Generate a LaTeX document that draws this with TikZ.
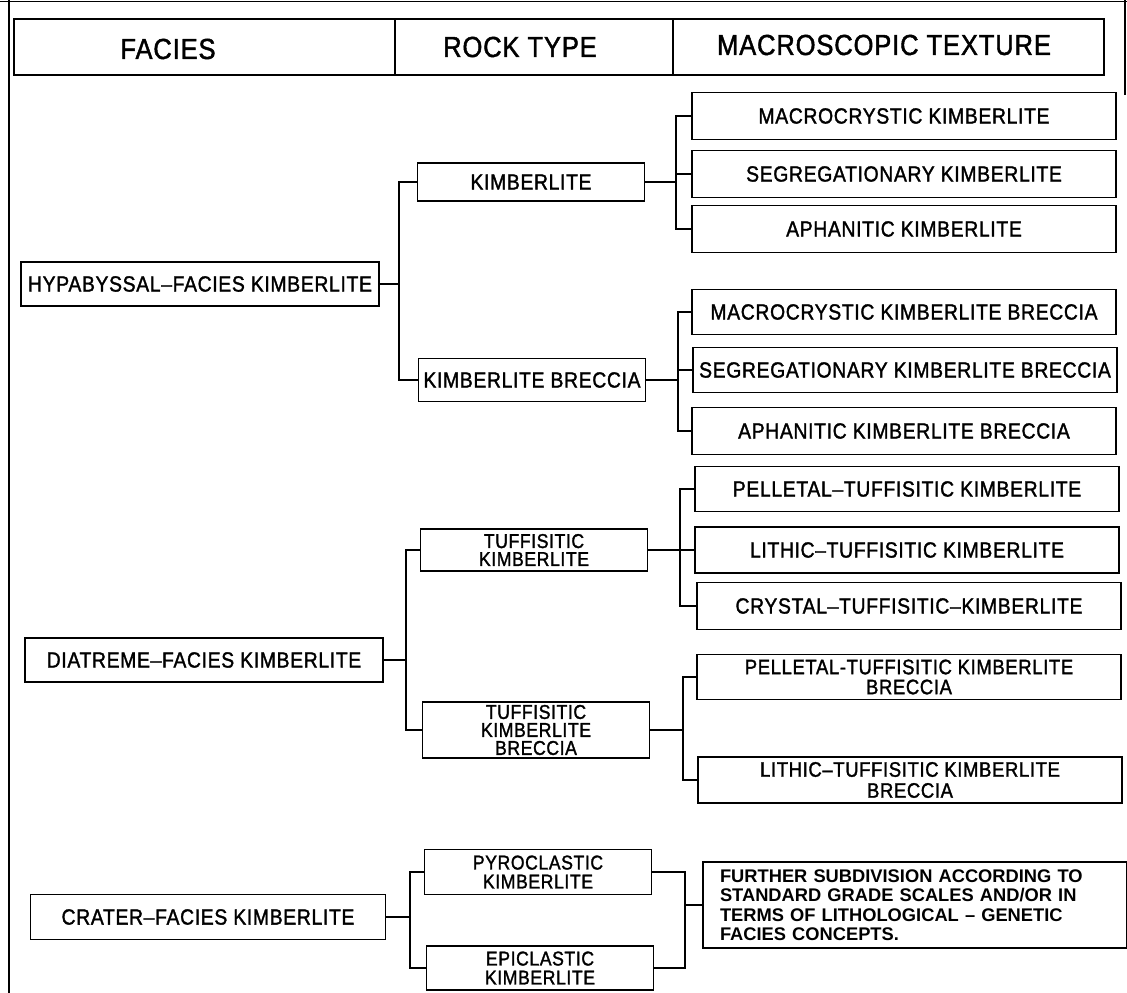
\documentclass[tikz,border=0pt]{standalone}
\usepackage{fontspec}
\setmainfont{Liberation Sans}[LetterSpace=3, FakeStretch=0.88, FakeBold=1.5]
\newfontfamily\plainfont{Liberation Sans}[Ligatures=TeX]
\begin{document}
\begin{tikzpicture}[x=1pt,y=-1pt,
  box/.style={draw, line width=1.7pt, inner sep=0pt, align=center,
    font=\fontsize{22}{22}\selectfont},
  lone/.style={box, minimum width=358pt, minimum height=44pt},
  ltwo/.style={box, minimum width=227pt, minimum height=40pt},
  lthree/.style={box, minimum width=424pt, minimum height=46pt},
  hcell/.style={draw, line width=1.7pt, minimum height=56pt, inner sep=0pt},
  htext/.style={font=\fontsize{29}{29}\selectfont, inner sep=0pt},
  conn/.style={line width=1.4pt},
  frame/.style={line width=1.2pt}]
\useasboundingbox (0,0) rectangle (1127,993);
% outer frame
\draw[frame] (0,1.5) -- (1127,1.5);
\draw[frame] (9,0) -- (9,993);
\draw[frame] (1125,0) -- (1125,95);
% header
\node[hcell, minimum width=381pt] (h1) at (204.5,47) {};
\node[hcell, minimum width=278pt] (h2) at (534,47) {};
\node[hcell, minimum width=431pt] (h3) at (888.5,47) {};
\node[htext] (t1) at (168,49) {FACIES};
\node[htext] (t2) at (520,47) {ROCK TYPE};
\node[htext] (t3) at (884,45) {MACROSCOPIC TEXTURE};
% level 1
\node[lone] (hyp) at (200,284) {HYPABYSSAL--FACIES KIMBERLITE};
\node[lone] (dia) at (204,660) {DIATREME--FACIES KIMBERLITE};
\node[lone, minimum width=355pt, minimum height=45pt] (cra) at (208,917) {CRATER--FACIES KIMBERLITE};
% level 2
\node[ltwo, minimum height=38pt] (K) at (531,182) {KIMBERLITE};
\node[ltwo, minimum height=43pt] (KB) at (532,380) {KIMBERLITE BRECCIA};
\node[ltwo, minimum height=42pt, font=\fontsize{20}{18}\selectfont] (TK) at (534,550) {TUFFISITIC\\KIMBERLITE};
\node[ltwo, minimum height=56pt, font=\fontsize{20}{18}\selectfont] (TKB) at (536,730) {TUFFISITIC\\KIMBERLITE\\BRECCIA};
\node[ltwo, minimum height=45pt, font=\fontsize{20}{19}\selectfont] (pyro) at (538,872) {PYROCLASTIC\\KIMBERLITE};
\node[ltwo, minimum height=44pt, font=\fontsize{20}{19}\selectfont] (epi) at (540,968) {EPICLASTIC\\KIMBERLITE};
% level 3
\node[lthree, minimum height=47pt] (MK) at (904,116) {MACROCRYSTIC KIMBERLITE};
\node[lthree, minimum height=47pt] (SK) at (904,174) {SEGREGATIONARY KIMBERLITE};
\node[lthree, minimum height=47pt] (AK) at (904,229) {APHANITIC KIMBERLITE};
\node[lthree, minimum height=45pt] (MKB) at (904,312) {MACROCRYSTIC KIMBERLITE BRECCIA};
\node[lthree, minimum height=45pt] (SKB) at (905,370) {SEGREGATIONARY KIMBERLITE BRECCIA};
\node[lthree, minimum height=47pt] (AKB) at (904,431) {APHANITIC KIMBERLITE BRECCIA};
\node[lthree, minimum height=45pt] (PTK) at (907,489) {PELLETAL--TUFFISITIC KIMBERLITE};
\node[lthree] (LTK) at (907,550) {LITHIC--TUFFISITIC KIMBERLITE};
\node[lthree, minimum height=47pt] (CTK) at (909,606) {CRYSTAL--TUFFISITIC--KIMBERLITE};
\node[lthree, minimum height=45pt, font=\fontsize{21}{20}\selectfont] (PTKB) at (909,677) {PELLETAL-TUFFISITIC KIMBERLITE\\BRECCIA};
\node[lthree, font=\fontsize{21}{21}\selectfont] (LTKB) at (910,780) {LITHIC--TUFFISITIC KIMBERLITE\\BRECCIA};
\node[box, minimum width=424pt, minimum height=86pt, align=left, inner xsep=17pt,
  text width=390pt,
  font=\plainfont\fontsize{18.3}{19.5}\selectfont\bfseries] (fur) at (915,905)
  {FURTHER SUBDIVISION ACCORDING TO\\STANDARD GRADE SCALES AND/OR IN\\TERMS OF LITHOLOGICAL \textendash\ GENETIC\\FACIES CONCEPTS.};
% bus coordinates
\coordinate (bA) at (399,0);
\coordinate (bB) at (676,0);
\coordinate (bC) at (678,0);
\coordinate (bD) at (406,0);
\coordinate (bE) at (680,0);
\coordinate (bF) at (683,0);
\coordinate (bG) at (410,0);
\coordinate (bH) at (685,0);
% hypabyssal
\draw[conn] (hyp.east) -- (hyp.east -| bA);
\draw[conn] (K.west) -- (K.west -| bA) -- (KB.west -| bA) -- (KB.west);
\draw[conn] (K.east) -- (K.east -| bB);
\draw[conn] (MK.west) -- (MK.west -| bB) -- (AK.west -| bB) -- (AK.west);
\draw[conn] (SK.west) -- (SK.west -| bB);
\draw[conn] (KB.east) -- (KB.east -| bC);
\draw[conn] (MKB.west) -- (MKB.west -| bC) -- (AKB.west -| bC) -- (AKB.west);
\draw[conn] (SKB.west) -- (SKB.west -| bC);
% diatreme
\draw[conn] (dia.east) -- (dia.east -| bD);
\draw[conn] (TK.west) -- (TK.west -| bD) -- (TKB.west -| bD) -- (TKB.west);
\draw[conn] (TK.east) -- (TK.east -| bE);
\draw[conn] (PTK.west) -- (PTK.west -| bE) -- (CTK.west -| bE) -- (CTK.west);
\draw[conn] (LTK.west) -- (LTK.west -| bE);
\draw[conn] (TKB.east) -- (TKB.east -| bF);
\draw[conn] (PTKB.west) -- (PTKB.west -| bF) -- (LTKB.west -| bF) -- (LTKB.west);
% crater
\draw[conn] (cra.east) -- (cra.east -| bG);
\draw[conn] (pyro.west) -- (pyro.west -| bG) -- (epi.west -| bG) -- (epi.west);
\draw[conn] (pyro.east) -- (pyro.east -| bH) -- (epi.east -| bH) -- (epi.east);
\draw[conn] (fur.west) -- (fur.west -| bH);
\end{tikzpicture}
\end{document}
